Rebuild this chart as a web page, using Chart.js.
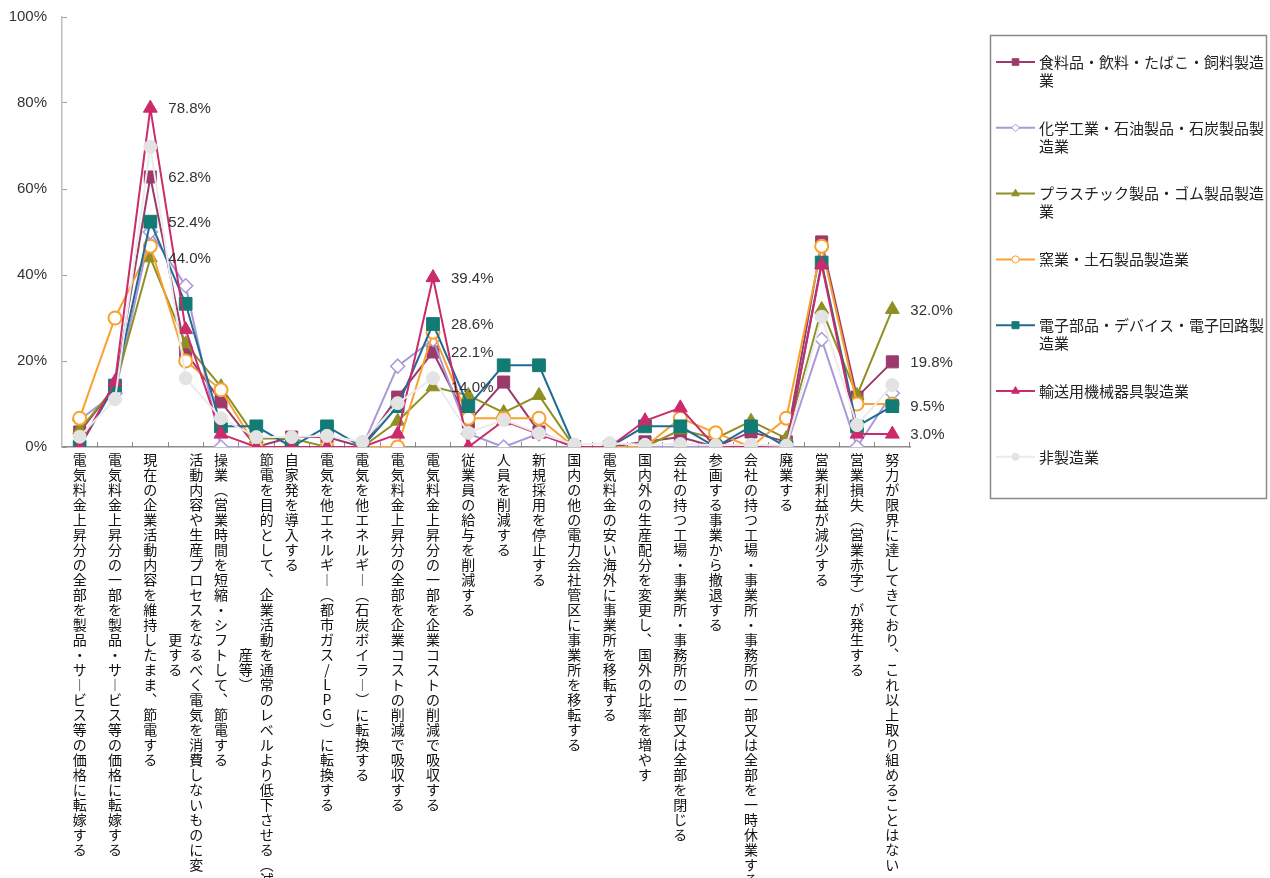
<!DOCTYPE html>
<html lang="ja">
<head>
<meta charset="utf-8">
<title>電気料金上昇への対応（業種別）</title>
<script src="https://cdn.jsdelivr.net/npm/chart.js@4.4.1/dist/chart.umd.min.js"></script>
<style>
  html, body { margin: 0; padding: 0; background: #fff; overflow: hidden; }
  #wrap { position: relative; width: 1270px; height: 878px; }
  canvas { display: block; }
</style>
</head>
<body>
<div id="wrap"><canvas id="chart" width="1270" height="878"></canvas></div>
<script>
// Response categories (a "\n" marks where the vertical label wraps into a second column)
const categories = [
  "電気料金上昇分の全部を製品・サービス等の価格に転嫁する",
  "電気料金上昇分の一部を製品・サービス等の価格に転嫁する",
  "現在の企業活動内容を維持したまま、節電する",
  "活動内容や生産プロセスをなるべく電気を消費しないものに変\n更する",
  "操業(営業時間を短縮・シフトして、節電する",
  "節電を目的として、企業活動を通常のレベルより低下させる(減\n産等)",
  "自家発を導入する",
  "電気を他エネルギー(都市ガス/LPG)に転換する",
  "電気を他エネルギー(石炭ボイラー)に転換する",
  "電気料金上昇分の全部を企業コストの削減で吸収する",
  "電気料金上昇分の一部を企業コストの削減で吸収する",
  "従業員の給与を削減する",
  "人員を削減する",
  "新規採用を停止する",
  "国内の他の電力会社管区に事業所を移転する",
  "電気料金の安い海外に事業所を移転する",
  "国内外の生産配分を変更し、国外の比率を増やす",
  "会社の持つ工場・事業所・事務所の一部又は全部を閉じる",
  "参画する事業から撤退する",
  "会社の持つ工場・事業所・事務所の一部又は全部を一時休業する",
  "廃業する",
  "営業利益が減少する",
  "営業損失(営業赤字)が発生する",
  "努力が限界に達してきており、これ以上取り組めることはない"
];

// Series names
const seriesNames = [
  "食料品・飲料・たばこ・飼料製造業",
  "化学工業・石油製品・石炭製品製造業",
  "プラスチック製品・ゴム製品製造業",
  "窯業・土石製品製造業",
  "電子部品・デバイス・電子回路製造業",
  "輸送用機械器具製造業",
  "非製造業"
];

// Share of respondents (%) per category
const food       = [3.5, 14.0, 62.8, 22.1, 10.5, 0, 2.3, 2.3, 0, 11.6, 22.1, 5.8, 15.1, 3.5, 0, 0, 1.2, 2.3, 0, 3.5, 1.2, 47.7, 11.6, 19.8];
const chemical   = [6.3, 12.5, 50.0, 37.5, 0, 0, 0, 0, 0, 18.8, 25.0, 3.1, 0, 3.1, 0, 0, 0, 0, 0, 0, 0, 25.0, 0, 12.5];
const plastic    = [4.0, 14.0, 44.0, 24.0, 14.0, 2.0, 2.0, 0, 0, 6.0, 14.0, 12.0, 8.0, 12.0, 0, 0, 0, 4.0, 2.0, 6.0, 2.0, 32.0, 12.0, 32.0];
const ceramic    = [6.7, 30.0, 46.7, 20.0, 13.3, 0, 0, 0, 0, 0, 26.7, 6.7, 6.7, 6.7, 0, 0, 0, 6.7, 3.3, 0, 6.7, 46.7, 10.0, 10.0];
const electronic = [0, 14.3, 52.4, 33.3, 4.8, 4.8, 0, 4.8, 0, 9.5, 28.6, 9.5, 19.0, 19.0, 0, 0, 4.8, 4.8, 0, 4.8, 0, 42.9, 4.8, 9.5];
const transport  = [0, 15.2, 78.8, 27.3, 3.0, 0, 0, 0, 0, 3.0, 39.4, 0, 6.1, 3.0, 0, 0, 6.1, 9.1, 0, 0, 0, 42.4, 3.0, 3.0];
const nonMfg     = [2.4, 11.1, 69.8, 16.0, 6.7, 2.3, 2.3, 2.6, 1.2, 10.2, 16.0, 3.3, 6.3, 3.2, 0.6, 0.9, 0.5, 0.7, 0.4, 0.5, 0.3, 30.3, 5.1, 14.4];

// Y axis tick values
const yTicks = [0, 20, 40, 60, 80, 100];

// Points that carry a value label: [series index, category index]
const valueLabels = [
  [5, 2], [0, 2], [4, 2], [2, 2],
  [5, 10], [4, 10], [0, 10], [2, 10],
  [2, 23], [0, 23], [4, 23], [5, 23]
];

const seriesData = [food, chemical, plastic, ceramic, electronic, transport, nonMfg];

// Visual styling for each series
const styles = [
  { line: '#9b3a6b', fill: '#9b3a6b', edge: '#9b3a6b', shape: 'rect',     r: 8.5, bw: 1 },
  { line: '#a999d8', fill: '#ffffff', edge: '#a999d8', shape: 'rectRot',  r: 7,   bw: 1.5 },
  { line: '#8f8f24', fill: '#8f8f24', edge: '#8f8f24', shape: 'triangle', r: 8,   bw: 1 },
  { line: '#f9a12f', fill: '#ffffff', edge: '#f9a12f', shape: 'circle',   r: 6.5, bw: 2 },
  { line: '#1f6b94', fill: '#127b74', edge: '#127b74', shape: 'rect',     r: 9,   bw: 1 },
  { line: '#cb2a6b', fill: '#cb2a6b', edge: '#cb2a6b', shape: 'triangle', r: 8,   bw: 1 },
  { line: '#ebebeb', fill: '#e3e3e3', edge: '#e3e3e3', shape: 'circle',   r: 6.5, bw: 1 }
];

// Vertical presentation forms for stacked (tategaki) labels
const VERTICAL_FORMS = { '(': '\uFE35', ')': '\uFE36', '（': '\uFE35', '）': '\uFE36', '、': '\uFE11', 'ー': '\uFE31' };
function toColumn(s) { return Array.from(s).map(c => VERTICAL_FORMS[c] || c); }
function verticalLines(label) {
  const cols = label.split('\n').map(toColumn);
  if (cols.length === 1) return cols[0];
  const right = cols[0], left = cols[1];
  const off = Math.floor((right.length - left.length) / 2);
  return right.map((c, i) => (left[i - off] || '\u3000') + '\u2002' + c);
}

const datasets = seriesData.map((data, i) => ({
  label: seriesNames[i],
  data: data,
  borderColor: styles[i].line,
  backgroundColor: styles[i].fill,
  borderWidth: 2,
  pointStyle: styles[i].shape,
  pointRadius: styles[i].r,
  pointHoverRadius: styles[i].r,
  pointBackgroundColor: styles[i].fill,
  pointBorderColor: styles[i].edge,
  pointBorderWidth: styles[i].bw,
  tension: 0,
  order: seriesData.length - i
}));

// Value labels to the right of selected points
const valueLabelPlugin = {
  id: 'valueLabels',
  afterDatasetsDraw(chart) {
    const ctx = chart.ctx;
    ctx.save();
    ctx.font = '15px "Liberation Sans", Arial, sans-serif';
    ctx.fillStyle = '#333333';
    ctx.textAlign = 'left';
    ctx.textBaseline = 'middle';
    valueLabels.forEach(([s, c]) => {
      const pt = chart.getDatasetMeta(s).data[c];
      const v = seriesData[s][c];
      ctx.fillText(v.toFixed(1) + '%', pt.x + 18, pt.y + 1);
    });
    ctx.restore();
  }
};

function drawMarkerPath(ctx, shape, r, x, y) {
  if (shape === 'circle') {
    ctx.arc(x, y, r, 0, Math.PI * 2);
  } else if (shape === 'rect') {
    const s = Math.SQRT1_2 * r;
    ctx.rect(x - s, y - s, 2 * s, 2 * s);
  } else if (shape === 'rectRot') {
    ctx.moveTo(x, y - r); ctx.lineTo(x + r, y); ctx.lineTo(x, y + r); ctx.lineTo(x - r, y); ctx.closePath();
  } else if (shape === 'triangle') {
    for (let k = 0; k < 3; k++) {
      const a = k * 2 * Math.PI / 3;
      const px = x + Math.sin(a) * r, py = y - Math.cos(a) * r;
      if (k === 0) ctx.moveTo(px, py); else ctx.lineTo(px, py);
    }
    ctx.closePath();
  }
}

// Framed legend on the right with wrapped series names
const boxLegendPlugin = {
  id: 'boxLegend',
  afterDraw(chart) {
    const ctx = chart.ctx;
    const left = 990, top = 35, width = 277, height = 463;
    const rowGap = 65.8, firstRow = 62, lineGap = 18;
    const textX = 1039, maxText = 228;
    ctx.save();
    ctx.strokeStyle = '#8a8a8a';
    ctx.lineWidth = 1.5;
    ctx.strokeRect(left + 0.5, top + 0.5, width - 1, height);
    ctx.font = '15px "Noto Sans CJK JP", sans-serif';
    ctx.textBaseline = 'middle';
    ctx.textAlign = 'left';
    chart.data.datasets.forEach((ds, i) => {
      const y = firstRow + i * rowGap;
      ctx.strokeStyle = ds.borderColor;
      ctx.lineWidth = 2;
      ctx.beginPath();
      ctx.moveTo(996, y);
      ctx.lineTo(1035, y);
      ctx.stroke();
      ctx.fillStyle = ds.pointBackgroundColor;
      ctx.strokeStyle = ds.pointBorderColor;
      ctx.beginPath();
      drawMarkerPath(ctx, ds.pointStyle, ds.pointRadius * 0.55, 1015.5, y);
      ctx.fill();
      ctx.lineWidth = 1;
      ctx.stroke();
      // wrap the name within the frame
      const lines = [];
      let cur = '';
      Array.from(ds.label).forEach(ch => {
        if (ctx.measureText(cur + ch).width > maxText && cur) { lines.push(cur); cur = ch; }
        else cur += ch;
      });
      if (cur) lines.push(cur);
      ctx.fillStyle = '#222222';
      lines.forEach((ln, k) => ctx.fillText(ln, textX, y + k * lineGap));
    });
    ctx.restore();
  }
};

new Chart(document.getElementById('chart'), {
  type: 'line',
  data: { labels: categories, datasets: datasets },
  options: {
    responsive: false,
    animation: false,
    events: [],
    layout: { padding: { top: 17, right: 360, bottom: 0, left: 0 } },
    plugins: {
      legend: { display: false },
      tooltip: { enabled: false }
    },
    scales: {
      x: {
        type: 'category',
        offset: true,
        afterFit(scale) { scale.height = 431; },
        border: { display: true, color: '#8c8c8c', width: 1.5 },
        grid: {
          display: true, offset: true, drawOnChartArea: false, drawTicks: true,
          tickLength: -5, tickColor: '#8c8c8c', tickWidth: 1
        },
        ticks: {
          autoSkip: false,
          maxRotation: 0,
          minRotation: 0,
          padding: 10,
          color: '#111111',
          font: { family: '"Noto Sans CJK JP", sans-serif', size: 14, lineHeight: '15px' },
          callback(value, index) { return verticalLines(categories[index]); }
        }
      },
      y: {
        min: yTicks[0],
        max: yTicks[yTicks.length - 1],
        afterFit(scale) {
          scale.width = 62;
          scale.paddingTop = 0;
          scale.paddingBottom = 0;
        },
        afterBuildTicks(scale) { scale.ticks = yTicks.map(v => ({ value: v })); },
        border: { display: true, color: '#bdbdbd', width: 1.5 },
        grid: {
          display: true, drawOnChartArea: false, drawTicks: true,
          tickLength: -5, tickColor: '#a0a0a0', tickWidth: 1
        },
        ticks: {
          padding: 20,
          color: '#333333',
          font: { family: '"Liberation Sans", Arial, sans-serif', size: 15 },
          callback(value) { return value + '%'; }
        }
      }
    }
  },
  plugins: [valueLabelPlugin, boxLegendPlugin]
});
</script>
</body>
</html>
